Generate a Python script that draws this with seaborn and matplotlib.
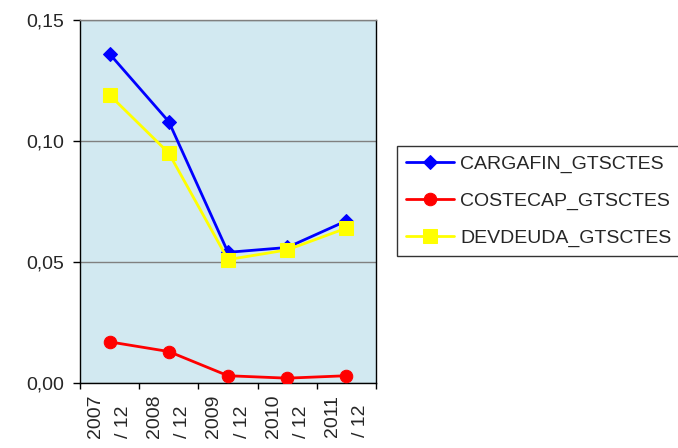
import pandas as pd
import matplotlib
matplotlib.use("Agg")
import matplotlib.pyplot as plt
import seaborn as sns

periods = ["2007 / 12", "2008 / 12", "2009 / 12", "2010 / 12", "2011 / 12"]
tick_labels = ["2007\n/ 12", "2008\n/ 12", "2009\n/ 12", "2010\n/ 12", "2011\n/ 12"]
cargafin = [0.136, 0.108, 0.054, 0.056, 0.067]
costecap = [0.017, 0.013, 0.003, 0.002, 0.003]
devdeuda = [0.119, 0.095, 0.051, 0.055, 0.064]

series_names = ["CARGAFIN_GTSCTES", "COSTECAP_GTSCTES", "DEVDEUDA_GTSCTES"]
series_colors = ["#0000FF", "#FF0000", "#FFFF00"]
series_markers = ["D", "o", "s"]
marker_sizes = [7, 9, 10]


def build_frame() -> pd.DataFrame:
    rows = []
    for name, values in zip(series_names, [cargafin, costecap, devdeuda]):
        for i, v in enumerate(values):
            rows.append({"pos": i, "Serie": name, "Valor": v})
    return pd.DataFrame(rows)


def main() -> None:
    sns.set_theme(style="white")
    plt.rcParams["font.family"] = ["Liberation Sans", "DejaVu Sans"]
    fs = 14

    df = build_frame()
    fig = plt.figure(figsize=(6.78, 4.48), dpi=100)
    ax = fig.add_axes([80 / 678, 1 - 383 / 448, 296 / 678, 363 / 448])
    ax.set_facecolor("#D2E9F1")

    for name, color, marker, ms in zip(series_names, series_colors, series_markers, marker_sizes):
        sub = df[df["Serie"] == name]
        sns.lineplot(data=sub, x="pos", y="Valor", color=color, marker=marker,
                     markersize=ms, markeredgecolor=color, linewidth=2,
                     label=name, ax=ax, zorder=3)

    ax.set_xlim(-0.5, 4.5)
    ax.set_ylim(0, 0.15)
    ax.set_yticks([0, 0.05, 0.10, 0.15])
    ax.set_yticklabels(["0,00", "0,05", "0,10", "0,15"], fontsize=fs)
    ax.yaxis.grid(True, color="#808080", linewidth=1)
    ax.set_axisbelow(True)

    # category boundaries carry the tick marks, labels sit in the middle
    ax.set_xticks([i - 0.5 for i in range(6)])
    ax.set_xticklabels([])
    ax.set_xticks(range(5), minor=True)
    ax.set_xticklabels(tick_labels, minor=True, rotation=90, fontsize=fs,
                       ha="center", va="top", linespacing=1.85, multialignment="left")
    ax.tick_params(axis="x", which="major", direction="out", length=4.5, color="black", width=1, bottom=True)
    ax.tick_params(axis="x", which="minor", length=0, pad=8.5)
    ax.tick_params(axis="y", direction="out", length=5, color="black", width=1, left=True, pad=6.5)
    ax.set_xlabel("")
    ax.set_ylabel("")

    for side in ["left", "bottom", "right"]:
        ax.spines[side].set_color("black")
        ax.spines[side].set_linewidth(1)
    ax.spines["top"].set_color("#808080")
    ax.spines["top"].set_linewidth(1)

    leg = ax.legend(loc="center left", bbox_to_anchor=(397 / 678, 1 - 201 / 448),
                    bbox_transform=fig.transFigure, frameon=True, fancybox=False,
                    fontsize=fs, handlelength=2.5, borderpad=0.45, labelspacing=1.0,
                    handletextpad=0.3, borderaxespad=0)
    leg.get_frame().set_edgecolor("black")
    leg.get_frame().set_linewidth(1)

    fig.savefig("out.png", dpi=100)
    plt.close(fig)


if __name__ == "__main__":
    main()
